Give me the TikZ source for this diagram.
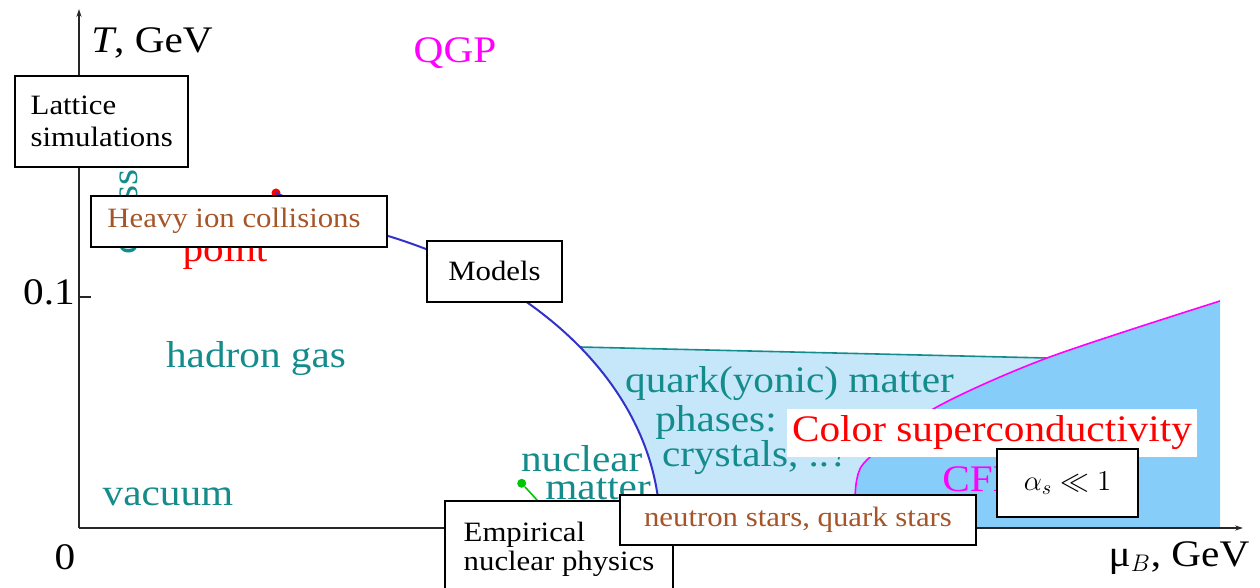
\documentclass[tikz,border=0pt]{standalone}
\usepackage{fontspec}
\setmainfont{Liberation Serif}[FakeStretch=1.1]
\usetikzlibrary{arrows.meta}

\definecolor{tealtxt}{RGB}{20,140,140}
\definecolor{browntxt}{RGB}{165,85,40}
\definecolor{curveblue}{RGB}{50,50,200}
\definecolor{lightreg}{RGB}{198,230,250}
\definecolor{darkreg}{RGB}{135,205,250}
\definecolor{greendot}{RGB}{0,200,0}
\definecolor{pinkmag}{RGB}{255,0,255}

\begin{document}
\begin{tikzpicture}[x=0.5pt,y=-0.5pt,
  big/.style={font=\fontsize{18.75}{18.5}\selectfont, inner sep=0pt},
  box/.style={draw=black, line width=1pt, fill=white, inner sep=0pt,
              font=\fontsize{14}{15.8}\selectfont},
  boxtext/.style={inner sep=0pt, font=\fontsize{14}{14.65}\selectfont},
  axis/.style={draw=black!85, line width=1pt},
  axisarrow/.style={axis, -{Stealth[length=4pt,width=2.6pt]}},
  dotmark/.style={circle, inner sep=0pt, minimum size=4.5pt}
]
\useasboundingbox (0,0) rectangle (1260,588);

% --- quarkyonic region (right of the transition curve) ---
\begin{scope}
  \clip (276,193) -- plot[domain=72:0, samples=60, smooth]
        ({210+450*cos(\x)}, {528-318*sin(\x)})
        -- (1300,528) -- (1300,0) -- cycle;
  \fill[lightreg] (540,346.06) -- (1047,358) -- (1047,528) -- (540,528) -- cycle;
  \draw[tealtxt, line width=0.8pt] (540,346.06) -- (1047,358);
\end{scope}

% --- colour superconducting region ---
\fill[darkreg] plot[smooth] coordinates {(854,528) (856.7,480) (870,457) (935,408)
      (1047,358) (1220,301)} -- (1220,528) -- cycle;
\draw[pinkmag, line width=0.8pt] plot[smooth] coordinates {(854,528) (856.7,480)
      (870,457) (935,408) (1047,358) (1220,301)};

% --- critical point and the hadron / quark matter transition line ---
\node[dotmark, fill=red] (crit) at (276,193) {};
\draw[curveblue, line width=1pt] (crit.center) -- plot[domain=72:0, samples=60, smooth]
      ({210+450*cos(\x)}, {528-318*sin(\x)});

% --- axes ---
\coordinate (origin) at (79,528);
\coordinate (ytop) at (79,9);
\coordinate (xend) at (1243,528);
\coordinate (tickbase) at (79,297);
\coordinate (tickend) at (91,297);
\draw[axisarrow] (origin) -- (ytop);
\draw[axisarrow] (origin) -- (xend);
\draw[axis] (tickbase) -- (tickend);

\node[big, anchor=base] (tlab) at (152,52.3) {\textit{T}, GeV};
\node[big, anchor=base] (mulab) at (1179,566.7) {μ$_{B}$, GeV};
\node[big, anchor=base] (tick01) at (49,305) {0.1};
\node[big, anchor=base] (zero) at (65,569) {0};

% --- phase labels ---
\node[big, text=pinkmag, anchor=base] (qgp) at (455,62.7) {QGP};
\node[big, text=tealtxt, anchor=base] (hgas) at (256,368) {hadron gas};
\node[big, text=tealtxt, anchor=base] (vac) at (168,506) {vacuum};
\node[big, text=tealtxt, rotate=90, anchor=base west] (xover) at (137,255) {crossover};
\node[big, text=red, anchor=base] (cpoint) at (225,261.7) {point};
\node[big, text=tealtxt, anchor=base] (nucl) at (581.7,471.7) {nuclear};
\node[big, text=tealtxt, anchor=base west] (nmat) at (545,500) {matter};
\node[big, text=tealtxt, anchor=base] (qm1) at (789.5,393) {quark(yonic) matter};
\node[big, text=tealtxt, anchor=base] (qm2) at (716,432) {phases:};
\node[big, text=tealtxt, anchor=base] (qm3) at (756,467) {crystals, ..\textit{?}};
\node[big, text=pinkmag, anchor=base west] (cfl) at (942,492) {CFL};

% --- nuclear matter point ---
\node[dotmark, fill=greendot] (nmpt) at (521.7,483.3) {};
\coordinate (nmtail) at (548,512);
\draw[greendot, line width=0.8pt] (nmpt) -- (nmtail);

% --- colour superconductivity banner ---
\node[fill=white, inner sep=0pt, minimum width=204.7pt, minimum height=23.7pt,
      big, text=red] (cs) at (992,433) {Color superconductivity};

% --- method boxes ---
\node[box, align=left, minimum width=86.65pt, minimum height=45.65pt,
      font=\fontsize{14}{15.85}\selectfont] (lattice) at (101.7,121.7) {Lattice\\simulations};
\node[box, text=browntxt, minimum width=148.3pt, minimum height=25.5pt]
      (hic) at (239,221.2) {Heavy ion collisions\hspace*{5pt}};
\node[box, minimum width=67.8pt, minimum height=30.35pt] (models) at (494.5,271.3) {Models};
\node[box, minimum width=113.85pt, minimum height=69.65pt] (emp) at (558.85,570.35) {};
\node[boxtext, anchor=north west, align=left] (emptxt) at (463.3,521.6)
      {Empirical\\nuclear physics};
\node[box, text=browntxt, minimum width=178pt, minimum height=24.85pt]
      (ns) at (798,520.2) {neutron stars, quark stars};
\node[box, minimum width=70.2pt, minimum height=34pt] (alpha) at (1067.5,483.3) {$\alpha_s \ll 1$};
\end{tikzpicture}
\end{document}
